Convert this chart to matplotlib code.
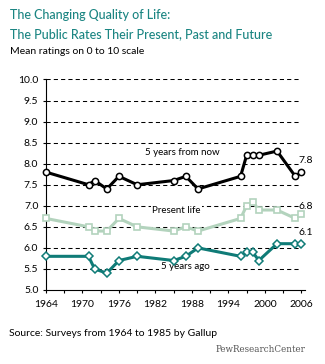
import matplotlib as mpl
mpl.use("Agg")
import matplotlib.pyplot as plt

plt.rcParams['font.family'] = ['Lato', 'DejaVu Sans']

# survey years and mean ratings (0-10 scale)
years = [1964, 1971, 1972, 1974, 1976, 1979, 1985, 1987, 1989,
         1996, 1997, 1998, 1999, 2002, 2005, 2006]
future = [7.8, 7.5, 7.6, 7.4, 7.7, 7.5, 7.6, 7.7, 7.4,
          7.7, 8.2, 8.2, 8.2, 8.3, 7.7, 7.8]
present = [6.7, 6.5, 6.4, 6.4, 6.7, 6.5, 6.4, 6.5, 6.4,
           6.7, 7.0, 7.1, 6.9, 6.9, 6.7, 6.8]
past = [5.8, 5.8, 5.5, 5.4, 5.7, 5.8, 5.7, 5.8, 6.0,
        5.8, 5.9, 5.9, 5.7, 6.1, 6.1, 6.1]

series_names = ["5 years from now", "Present life", "5 years ago"]
xticks = [1964, 1970, 1976, 1982, 1988, 1994, 2000, 2006]
yticks = [5.0, 5.5, 6.0, 6.5, 7.0, 7.5, 8.0, 8.5, 9.0, 9.5, 10.0]

TEAL = "#0f7b77"
LIGHT = "#b3d3bd"
TITLE = "#1b8582"

fig = plt.figure(figsize=(3.25, 3.64), dpi=100)
ax = fig.add_axes([0.1415, 0.2033, 0.797, 0.5783])

# dashed reference lines
for v in yticks[1:]:
    ax.plot([1964, 2006], [v, v], color="black", lw=0.75,
            linestyle=(0, (4, 3)), zorder=1)

ax.plot(years, past, color=TEAL, lw=2.2, marker="D", ms=4,
        mfc="white", mec=TEAL, mew=1.1, zorder=3, clip_on=False)
ax.plot(years, present, color=LIGHT, lw=2.2, marker="s", ms=4.5,
        mfc="white", mec=LIGHT, mew=1.2, zorder=3, clip_on=False)
ax.plot(years, future, color="black", lw=2.2, marker="o", ms=4.5,
        mfc="white", mec="black", mew=1.1, zorder=4, clip_on=False)

# series labels
box = dict(facecolor="white", edgecolor="none", pad=1)
ax.text(1986.5, 8.27, series_names[0], fontsize=7, ha="center", va="center", bbox=box, zorder=2)
ax.text(1985.5, 6.9, series_names[1], fontsize=7, ha="center", va="center", bbox=box, zorder=2)
ax.text(1986.9, 5.57, series_names[2], fontsize=7, ha="center", va="center", bbox=box, zorder=2)

# end values, placed just above the last point
for vals, dy in [(future, 8.7), (present, 5.9), (past, 7.9)]:
    ax.annotate("%.1f" % vals[-1], (years[-1], vals[-1]), xytext=(3.3, dy),
                textcoords="offset points", ha="center", va="center", fontsize=7.5,
                annotation_clip=False)

ax.set_xlim(1964, 2006.6)
ax.set_ylim(5, 10)
ax.set_xticks(xticks)
ax.set_xticks(range(1964, 2007, 3), minor=True)
ax.set_yticks(yticks)
ax.set_yticklabels(["%.1f" % v for v in yticks])
ax.tick_params(axis="both", which="both", direction="out", length=2.5,
               width=0.8, labelsize=7.5, pad=3)
ax.tick_params(axis="x", pad=5)
for s in ["top", "right"]:
    ax.spines[s].set_visible(False)
for s in ["left", "bottom"]:
    ax.spines[s].set_linewidth(0.8)

fig.text(10 / 325, 1 - 15 / 364, "The Changing Quality of Life:", color=TITLE,
         fontsize=9, fontweight="medium", va="center", ha="left")
fig.text(10 / 325, 1 - 34 / 364, "The Public Rates Their Present, Past and Future",
         color=TITLE, fontsize=9, fontweight="medium", va="center", ha="left")
fig.text(10 / 325, 1 - 52 / 364, "Mean ratings on 0 to 10 scale", fontsize=7.5,
         va="center", ha="left")
fig.text(9 / 325, 1 - 334 / 364, "Source: Surveys from 1964 to 1985 by Gallup",
         fontsize=7.5, va="center", ha="left")
fig.text(305 / 325, 1 - 349 / 364, "PewResearchCenter", family="DejaVu Serif",
         fontsize=6.3, color="#555555", va="center", ha="right")

fig.savefig("out.png", dpi=100)
